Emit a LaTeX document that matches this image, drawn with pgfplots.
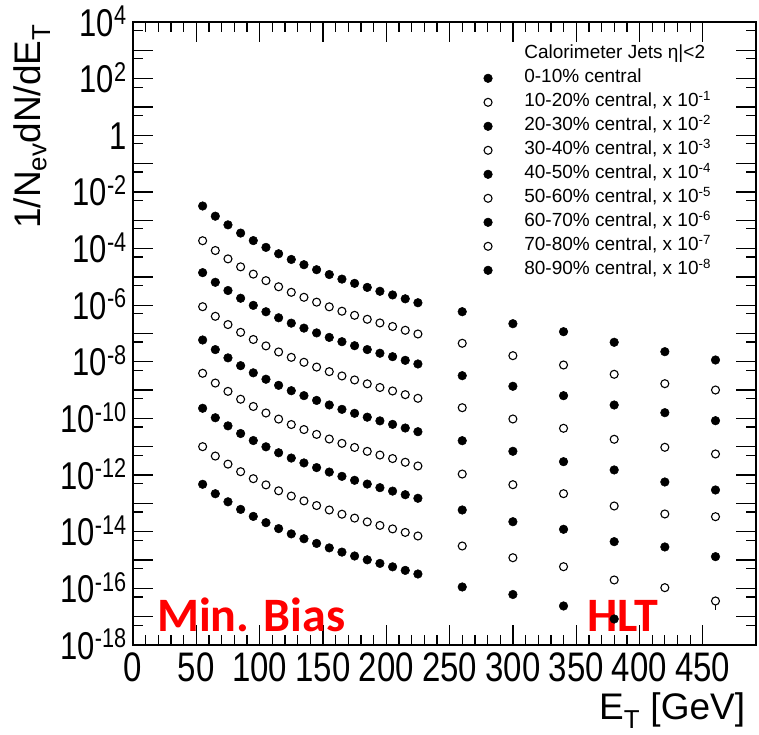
\documentclass[border=0pt]{standalone}
\usepackage{fontspec}
\setmainfont{Liberation Sans}
\newfontfamily\carlito{Carlito}
\usepackage{graphicx}
\usepackage{pgfplots}
\pgfplotsset{compat=1.18}

% tick labels are set a little taller than wide
\newcommand{\tl}[1]{\scalebox{1}[1.25]{#1}}
\newcommand{\ex}[1]{\tl{10\textsuperscript{#1}}}

\pgfplotsset{
  filled/.style={only marks, mark=*, mark size=4.3pt,
    mark options={fill=black, draw=black, line width=0.5pt}},
  hollow/.style={only marks, mark=*, mark size=4.0pt,
    mark options={fill=white, draw=black, line width=1.1pt}},
}

\begin{document}
\begin{tikzpicture}
\path[use as bounding box] (-133pt,-89pt) rectangle (626pt,645pt);
\begin{axis}[
  at={(0pt,0pt)}, anchor=south west,
  scale only axis, width=623pt, height=623pt,
  xmin=0, xmax=492,
  ymode=log, ymin=1e-18, ymax=1e4,
  axis line style={line width=1.6pt},
  every tick/.style={black, line width=1.3pt},
  major tick length=20pt, minor tick length=10pt,
  tick align=inside, tick pos=both,
  xticklabel pos=lower, yticklabel pos=left,
  xtick={0,50,...,450},
  xticklabels={\tl{0},\tl{50},\tl{100},\tl{150},\tl{200},\tl{250},\tl{300},\tl{350},\tl{400},\tl{450}},
  minor x tick num=4,
  ytick={1e-18,1e-17,1e-16,1e-15,1e-14,1e-13,1e-12,1e-11,1e-10,1e-9,1e-8,1e-7,1e-6,1e-5,1e-4,1e-3,1e-2,1e-1,1,1e1,1e2,1e3,1e4},
  yticklabels={{\ex{-18}},{},{\ex{-16}},{},{\ex{-14}},{},{\ex{-12}},{},{\ex{-10}},{},{\ex{-8}},{},{\ex{-6}},{},{\ex{-4}},{},{\ex{-2}},{},{\tl{1}},{},{\ex{2}},{},{\ex{4}}},
  minor ytick={5e-18,5e-17,5e-16,5e-15,5e-14,5e-13,5e-12,5e-11,5e-10,5e-9,5e-8,5e-7,5e-6,5e-5,5e-4,5e-3,5e-2,5e-1,5,5e1,5e2,5e3},
  xticklabel style={font=\fontsize{33}{33}\selectfont, anchor=north, yshift=-7pt, inner sep=0pt},
  yticklabel style={font=\fontsize{31}{31}\selectfont, anchor=base east, xshift=-6pt, yshift=-14pt, inner sep=0pt},
  xlabel={E\textsubscript{T} [GeV]},
  xlabel style={font=\fontsize{37}{37}\selectfont, at={(rel axis cs:0.7480,0)}, anchor=base west, yshift=-74pt, inner sep=0pt},
  ylabel={1/N\textsubscript{ev}dN/dE\textsubscript{T}},
  ylabel style={font=\fontsize{37}{37}\selectfont, at={([xshift=-92pt,yshift=-2pt]rel axis cs:0,1)}, anchor=base east, inner sep=0pt},
  legend style={at={(rel axis cs:0.5562,0.9634)}, anchor=north west,
    draw=none, fill=none, inner sep=0pt, outer sep=0pt,
    font=\fontsize{19}{19}\selectfont,
    row sep=5pt, column sep=32pt,
    nodes={inner sep=0pt, text height=14pt, text depth=5pt}},
  legend cell align=left,
]
\addlegendimage{empty legend}
\addlegendentry{Calorimeter Jets η|<2}

% lower error of the last 70-80% point
\addplot[draw=none, forget plot, error bars/.cd, y dir=minus, y explicit,
  error bar style={line width=1.2pt, black}, error mark=none]
  coordinates {(460,3.59e-17) -= (0,1.86e-17)};

\addplot[filled] table {
x y
55 3.18e-3
65 1.39e-3
75 6.87e-4
85 3.52e-4
95 1.91e-4
105 1.10e-4
115 6.55e-5
125 4.12e-5
135 2.69e-5
145 1.79e-5
155 1.21e-5
165 8.34e-6
175 5.90e-6
185 4.25e-6
195 3.10e-6
205 2.30e-6
215 1.68e-6
225 1.22e-6
260 5.89e-7
300 2.22e-7
340 1.16e-7
380 4.90e-8
420 2.28e-8
460 1.16e-8
};
\addlegendentry{0-10\% central}

\addplot[hollow] table {
x y
55 1.89e-4
65 8.53e-5
75 4.32e-5
85 2.26e-5
95 1.25e-5
105 7.36e-6
115 4.47e-6
125 2.85e-6
135 1.90e-6
145 1.28e-6
155 8.75e-7
165 6.12e-7
175 4.39e-7
185 3.18e-7
195 2.36e-7
205 1.77e-7
215 1.30e-7
225 9.62e-8
260 4.52e-8
300 1.65e-8
340 7.73e-9
380 3.63e-9
420 1.69e-9
460 1.01e-9
};
\addlegendentry{10-20\% central, x 10\textsuperscript{-1}}

\addplot[filled] table {
x y
55 1.41e-5
65 6.44e-6
75 3.30e-6
85 1.76e-6
95 9.86e-7
105 5.86e-7
115 3.59e-7
125 2.32e-7
135 1.55e-7
145 1.05e-7
155 7.28e-8
165 5.14e-8
175 3.71e-8
185 2.71e-8
195 2.01e-8
205 1.52e-8
215 1.13e-8
225 8.40e-9
260 3.24e-9
300 1.37e-9
340 6.37e-10
380 2.99e-10
420 1.60e-10
460 8.34e-11
};
\addlegendentry{20-30\% central, x 10\textsuperscript{-2}}

\addplot[hollow] table {
x y
55 8.85e-7
65 4.05e-7
75 2.07e-7
85 1.10e-7
95 6.15e-8
105 3.65e-8
115 2.23e-8
125 1.44e-8
135 9.62e-9
145 6.53e-9
155 4.50e-9
165 3.17e-9
175 2.29e-9
185 1.67e-9
195 1.24e-9
205 9.35e-10
215 6.93e-10
225 5.15e-10
260 2.40e-10
300 9.59e-11
340 4.50e-11
380 1.84e-11
420 9.59e-12
460 5.57e-12
};
\addlegendentry{30-40\% central, x 10\textsuperscript{-3}}

\addplot[filled] table {
x y
55 5.90e-8
65 2.70e-8
75 1.38e-8
85 7.31e-9
95 4.09e-9
105 2.43e-9
115 1.48e-9
125 9.55e-10
135 6.40e-10
145 4.34e-10
155 2.99e-10
165 2.10e-10
175 1.52e-10
185 1.11e-10
195 8.22e-11
205 6.19e-11
215 4.60e-11
225 3.41e-11
260 1.64e-11
300 6.93e-12
340 2.98e-12
380 1.52e-12
420 5.71e-13
460 2.98e-13
};
\addlegendentry{40-50\% central, x 10\textsuperscript{-4}}

\addplot[hollow] table {
x y
55 3.94e-9
65 1.78e-9
75 9.06e-10
85 4.78e-10
95 2.65e-10
105 1.56e-10
115 9.51e-11
125 6.10e-11
135 4.06e-11
145 2.74e-11
155 1.88e-11
165 1.32e-11
175 9.48e-12
185 6.90e-12
195 5.11e-12
205 3.84e-12
215 2.84e-12
225 2.10e-12
260 1.09e-12
300 4.59e-13
340 2.21e-13
380 8.11e-14
420 4.24e-14
460 3.40e-14
};
\addlegendentry{50-60\% central, x 10\textsuperscript{-5}}

\addplot[filled] table {
x y
55 2.29e-10
65 1.06e-10
75 5.48e-11
85 2.94e-11
95 1.66e-11
105 9.98e-12
115 6.15e-12
125 4.00e-12
135 2.69e-12
145 1.84e-12
155 1.28e-12
165 9.04e-13
175 6.56e-13
185 4.82e-13
195 3.60e-13
205 2.72e-13
215 2.03e-13
225 1.52e-13
260 5.86e-14
300 2.26e-14
340 1.22e-14
380 4.46e-15
420 2.90e-15
460 1.32e-15
};
\addlegendentry{60-70\% central, x 10\textsuperscript{-6}}

\addplot[hollow] table {
x y
55 1.01e-11
65 4.70e-12
75 2.44e-12
85 1.32e-12
95 7.48e-13
105 4.51e-13
115 2.79e-13
125 1.82e-13
135 1.23e-13
145 8.41e-14
155 5.86e-14
165 4.16e-14
175 3.03e-14
185 2.23e-14
195 1.67e-14
205 1.26e-14
215 9.46e-15
225 7.08e-15
260 3.14e-15
300 1.21e-15
340 5.83e-16
380 1.98e-16
420 1.06e-16
460 3.59e-17
};
\addlegendentry{70-80\% central, x 10\textsuperscript{-7}}

\addplot[filled] table {
x y
55 4.74e-13
65 2.20e-13
75 1.14e-13
85 6.15e-14
95 3.48e-14
105 2.09e-14
115 1.29e-14
125 8.40e-15
135 5.66e-15
145 3.87e-15
155 2.69e-15
165 1.91e-15
175 1.39e-15
185 1.02e-15
195 7.62e-16
205 5.77e-16
215 4.32e-16
225 3.22e-16
260 1.12e-16
300 6.08e-17
340 2.39e-17
380 8.30e-18
};
\addlegendentry{80-90\% central, x 10\textsuperscript{-8}}

\node[anchor=base west, inner sep=0pt, text=red,
  font=\fontsize{48}{48}\selectfont\carlito\bfseries]
  at (rel axis cs:0.0385,0.0209) {Min. Bias};
\node[anchor=base west, inner sep=0pt, text=red,
  font=\fontsize{48}{48}\selectfont\carlito\bfseries]
  at (rel axis cs:0.7287,0.0209) {HLT};
\end{axis}
\end{tikzpicture}
\end{document}
